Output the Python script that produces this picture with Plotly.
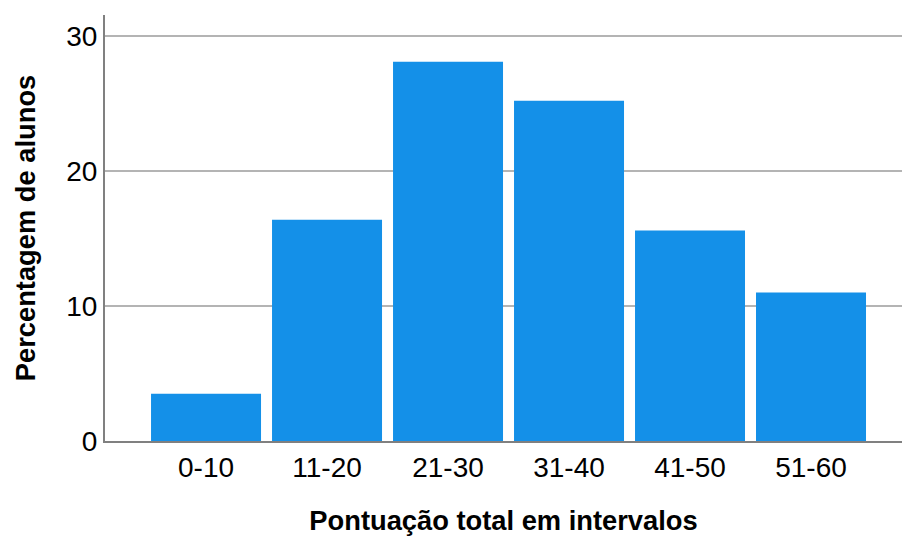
import plotly.graph_objects as go

categorias = ["0-10", "11-20", "21-30", "31-40", "41-50", "51-60"]
percentagens = [3.5, 16.4, 28.1, 25.2, 15.6, 11.0]
y_ticks = [0, 10, 20, 30]

fig = go.Figure(go.Bar(
    x=categorias, y=percentagens,
    marker=dict(color="#1490E8", line=dict(width=0)),
))

fig.update_layout(
    template="none",
    width=902, height=536,
    margin=dict(l=105, r=0, t=15, b=95),
    paper_bgcolor="white", plot_bgcolor="white",
    bargap=11/121,
    font=dict(family="Liberation Sans, Arial, sans-serif", color="#000000"),
    showlegend=False,
)
fig.update_xaxes(
    automargin=False,
    range=[-0.835, 5.752],
    showline=True, linecolor="#808080", linewidth=2,
    ticks="", tickfont=dict(size=28),
    title=dict(text="<b>Pontuação total em intervalos</b>", font=dict(size=27.3), standoff=29),
    showgrid=False,
)
fig.update_yaxes(
    automargin=False,
    range=[0, 31.56],
    tickvals=y_ticks,
    showline=True, linecolor="#808080", linewidth=2,
    ticks="", tickfont=dict(size=28),
    showgrid=True, gridcolor="#B4B4B4", gridwidth=1.5,
    zeroline=False,
    title=dict(text="<b>Percentagem de alunos</b>", font=dict(size=27.3), standoff=23),
)
fig.write_html(
    "out.html",
    config={"displayModeBar": False},
    post_script="document.body.style.margin='0';document.body.style.overflow='hidden';",
)
